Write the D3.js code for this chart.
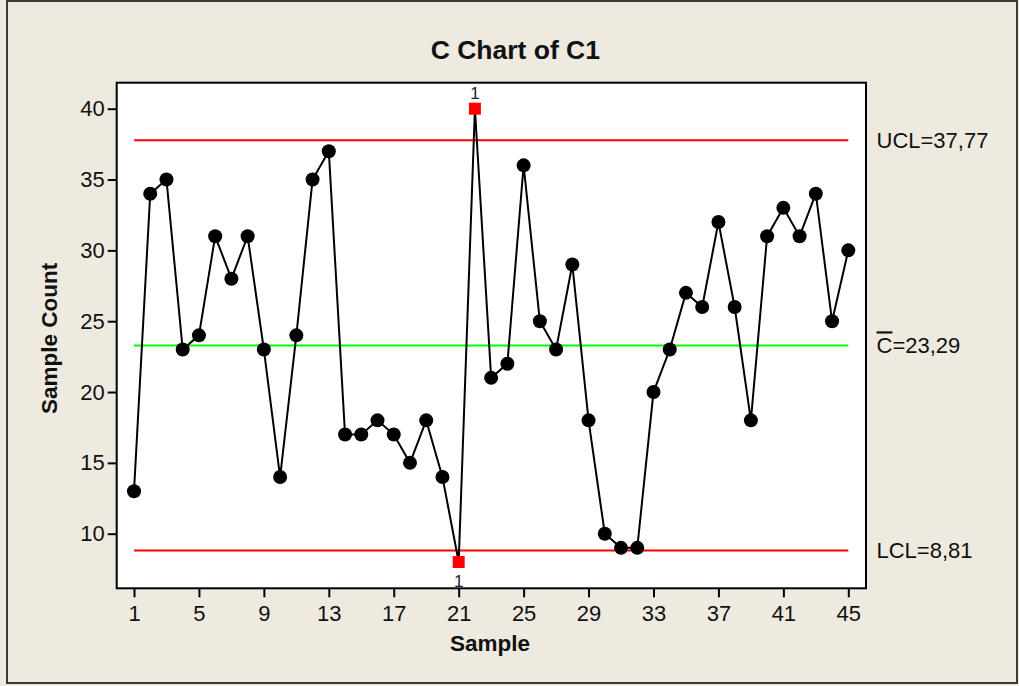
<!DOCTYPE html>
<html><head><meta charset="utf-8">
<script src="https://cdn.jsdelivr.net/npm/d3@7"></script>
<style>body{margin:0;background:#EEEAE0;}svg{display:block;}</style>
</head><body>
<svg id="c" width="1019" height="686"></svg>
<script>
const samples = d3.range(1, 46);
const counts = [13,34,35,23,24,31,28,31,23,14,24,35,37,17,17,18,17,15,18,14,8,40,21,22,36,25,23,29,18,10,9,9,20,23,27,26,32,26,18,31,33,31,34,25,30];
const outOfControl = [21, 22];
const xTicks = [1,5,9,13,17,21,25,29,33,37,41,45];
const yTicks = [10,15,20,25,30,35,40];
const limits = [
  {name: "UCL", value: 37.77, label: "UCL=37,77", color: "#ff0000"},
  {name: "CL", value: 23.29, label: "=23,29", color: "#00ff00"},
  {name: "LCL", value: 8.81, label: "LCL=8,81", color: "#ff0000"}
];
const title = "C Chart of C1";
const xLabel = "Sample";
const yLabel = "Sample Count";

const svg = d3.select("#c");
const font = "'Liberation Sans', Arial, sans-serif";
svg.append("rect").attr("x",0).attr("y",0).attr("width",1019).attr("height",686).attr("fill","#EEEAE0");
svg.append("rect").attr("x",7).attr("y",1).attr("width",1010).attr("height",682)
  .attr("fill","none").attr("stroke","#3a3a3a").attr("stroke-width",2);

const plot = {l:116.7, t:82.7, r:866, b:588.3};
const x = d3.scaleLinear().domain([1,45]).range([134,848.3]);
const y = d3.scaleLinear().domain([10,40]).range([533.7,108.7]);

svg.append("rect").attr("x",plot.l).attr("y",plot.t).attr("width",plot.r-plot.l).attr("height",plot.b-plot.t)
  .attr("fill","#fff").attr("stroke","#000").attr("stroke-width",2);

// axes
const xAxis = d3.axisBottom(x).tickValues(xTicks).tickSize(9).tickSizeOuter(0).tickPadding(8);
const gx = svg.append("g").attr("transform",`translate(0,${plot.b})`).call(xAxis);
gx.select(".domain").remove();
gx.selectAll("line").attr("stroke","#000").attr("stroke-width",2);
gx.selectAll("text").attr("font-family",font).attr("font-size",22).attr("fill","#111");

const yAxis = d3.axisLeft(y).tickValues(yTicks).tickSize(9).tickSizeOuter(0).tickPadding(3);
const gy = svg.append("g").attr("transform",`translate(${plot.l},0)`).call(yAxis);
gy.select(".domain").remove();
gy.selectAll("line").attr("stroke","#000").attr("stroke-width",2);
gy.selectAll("text").attr("font-family",font).attr("font-size",22).attr("fill","#111");

// control lines
limits.forEach(l => {
  svg.append("line").attr("x1",x(1)).attr("x2",x(45)).attr("y1",y(l.value)).attr("y2",y(l.value))
    .attr("stroke",l.color).attr("stroke-width",2);
  const t = svg.append("text").attr("x",876.5).attr("y",y(l.value)).attr("dy","0.36em")
    .attr("font-family",font).attr("font-size",22).attr("fill","#111");
  if (l.name === "CL") {
    t.append("tspan").attr("text-decoration","overline").text("C");
    t.append("tspan").text(l.label);
  } else t.text(l.label);
});

// data line
const pts = samples.map((s,i)=>({s, v:counts[i]}));
svg.append("path").datum(pts)
  .attr("d", d3.line().x(d=>x(d.s)).y(d=>y(d.v)))
  .attr("fill","none").attr("stroke","#000").attr("stroke-width",2);

svg.selectAll("circle.pt").data(pts.filter(d=>!outOfControl.includes(d.s))).join("circle")
  .attr("cx",d=>x(d.s)).attr("cy",d=>y(d.v)).attr("r",7).attr("fill","#000");

const ooc = pts.filter(d=>outOfControl.includes(d.s));
svg.selectAll("rect.sq").data(ooc).join("rect")
  .attr("x",d=>x(d.s)-6).attr("y",d=>y(d.v)-6).attr("width",12).attr("height",12).attr("fill","#ff0000");
svg.selectAll("text.flag").data(ooc).join("text")
  .attr("x",d=>x(d.s)).attr("y",d=> d.v > 23.29 ? y(d.v)-10 : y(d.v)+24.7)
  .attr("text-anchor","middle").attr("font-family",font).attr("font-size",17).attr("fill","#222").text("1");

// titles
svg.append("text").attr("x",515.3).attr("y",59.3).attr("text-anchor","middle")
  .attr("font-family",font).attr("font-size",26.5).attr("font-weight","bold").attr("fill","#111").text(title);
svg.append("text").attr("x",490).attr("y",651).attr("text-anchor","middle")
  .attr("font-family",font).attr("font-size",22.5).attr("font-weight","bold").attr("fill","#111").text(xLabel);
svg.append("text").attr("transform","translate(57,338.3) rotate(-90)").attr("text-anchor","middle")
  .attr("font-family",font).attr("font-size",22.5).attr("font-weight","bold").attr("fill","#111").text(yLabel);
</script>
</body></html>
